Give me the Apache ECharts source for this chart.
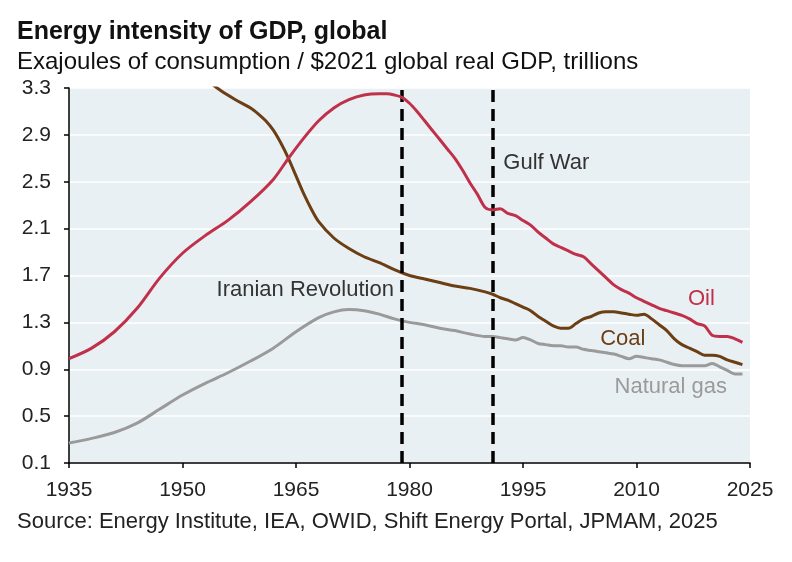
<!DOCTYPE html>
<html><head><meta charset="utf-8">
<script src="https://cdn.jsdelivr.net/npm/echarts@6/dist/echarts.min.js"></script>
<style>html,body{margin:0;padding:0;background:#fff}#c{width:792px;height:562px}</style>
</head><body><div id="c"></div>
<script>
const oilYears = [1935,1938,1941,1944,1947,1950,1953,1956,1959,1962,1964,1966,1968,1970,1972,1974,1976,1977,1978,1979,1980,1981,1982,1983,1984,1985,1986,1987,1988,1989,1990,1991,1992,1993,1994,1995,1996,1997,1998,1999,2000,2001,2002,2003,2004,2005,2006,2007,2008,2009,2010,2011,2012,2013,2014,2015,2016,2017,2018,2019,2020,2021,2022,2023,2024];
const oilValues = [0.99,1.08,1.22,1.42,1.68,1.89,2.04,2.17,2.33,2.52,2.70,2.87,3.02,3.13,3.20,3.24,3.25,3.25,3.24,3.22,3.17,3.10,3.02,2.94,2.86,2.78,2.70,2.60,2.49,2.39,2.28,2.26,2.27,2.23,2.21,2.17,2.13,2.07,2.02,1.97,1.94,1.91,1.88,1.86,1.80,1.74,1.68,1.62,1.58,1.55,1.51,1.48,1.45,1.42,1.40,1.38,1.36,1.33,1.29,1.27,1.19,1.18,1.18,1.16,1.13];

const coalYears = [1950,1953,1955,1957,1959,1960,1961,1962,1963,1964,1965,1966,1967,1968,1970,1972,1974,1976,1978,1980,1982,1984,1986,1988,1990,1991,1992,1993,1994,1995,1996,1997,1998,1999,2000,2001,2002,2003,2004,2005,2006,2007,2008,2009,2010,2011,2012,2013,2014,2015,2016,2017,2018,2019,2020,2021,2022,2023,2024];
const coalValues = [3.55,3.38,3.28,3.20,3.13,3.08,3.02,2.94,2.83,2.70,2.55,2.40,2.27,2.16,2.02,1.93,1.86,1.81,1.75,1.70,1.67,1.64,1.61,1.59,1.56,1.54,1.51,1.49,1.46,1.43,1.40,1.35,1.31,1.27,1.25,1.25,1.29,1.33,1.35,1.38,1.39,1.39,1.38,1.37,1.36,1.37,1.33,1.28,1.23,1.16,1.11,1.08,1.05,1.02,1.02,1.01,0.98,0.96,0.94];

const gasYears = [1935,1938,1941,1944,1947,1950,1953,1956,1959,1962,1965,1968,1970,1972,1974,1976,1978,1980,1982,1984,1986,1988,1990,1991,1992,1993,1994,1995,1996,1997,1998,1999,2000,2001,2002,2003,2004,2005,2006,2007,2008,2009,2010,2011,2012,2013,2014,2015,2016,2017,2018,2019,2020,2021,2022,2023,2024];
const gasValues = [0.27,0.31,0.36,0.44,0.56,0.68,0.78,0.87,0.97,1.08,1.22,1.34,1.39,1.41,1.40,1.37,1.33,1.30,1.28,1.25,1.23,1.20,1.18,1.18,1.17,1.16,1.15,1.17,1.15,1.12,1.11,1.10,1.10,1.09,1.09,1.07,1.06,1.05,1.04,1.03,1.01,0.99,1.01,1.00,0.99,0.98,0.96,0.94,0.93,0.93,0.93,0.93,0.95,0.92,0.89,0.86,0.86];

const eventYears = [1979, 1991];
const yTicks = [0.1,0.5,0.9,1.3,1.7,2.1,2.5,2.9,3.3];
const xTicks = [1935,1950,1965,1980,1995,2010,2025];

const annotations = [
  {text:'Iranian Revolution', at:[1954.5,1.585], color:'#333333'},
  {text:'Gulf War', at:[1992.4,2.67], color:'#333333'},
  {text:'Oil', at:[2016.8,1.51], color:'#c0304a'},
  {text:'Coal', at:[2005.2,1.17], color:'#6b3e14'},
  {text:'Natural gas', at:[2007.1,0.755], color:'#9a9a9a'}
];

function pairs(xs, ys){ return xs.map((x,i)=>[x, ys[i]]); }

const chart = echarts.init(document.getElementById('c'), null, {renderer:'canvas'});
const FONT = 'Liberation Sans, Arial, sans-serif';
chart.setOption({
  animation:false,
  backgroundColor:'#ffffff',
  title:[
    {text:'Energy intensity of GDP, global', left:17, top:20, padding:0, textStyle:{fontFamily:FONT, fontSize:25, fontWeight:'bold', color:'#111'}},
    {text:'Exajoules of consumption / $2021 global real GDP, trillions', left:17, top:50, padding:0, textStyle:{fontFamily:FONT, fontSize:24, fontWeight:'normal', color:'#111'}},
    {text:'Source: Energy Institute, IEA, OWID, Shift Energy Portal, JPMAM, 2025', left:17, top:511, padding:0, textStyle:{fontFamily:FONT, fontSize:22, fontWeight:'normal', color:'#222'}}
  ],
  grid:{left:69, right:42, top:88, bottom:99, show:true, backgroundColor:'#e9f0f4', borderWidth:0},
  xAxis:{type:'value', min:1935, max:2025, interval:15,
    axisLine:{show:true, onZero:false, lineStyle:{color:'#000', width:1.5}},
    axisTick:{show:true, length:5, lineStyle:{color:'#000', width:1.5}},
    axisLabel:{fontFamily:FONT, fontSize:21, color:'#222', margin:17, formatter:v=>xTicks.includes(v)?String(v):''},
    splitLine:{show:false}},
  yAxis:{type:'value', min:0.1, max:3.3, interval:0.4,
    axisLine:{show:true, lineStyle:{color:'#000', width:1.5}},
    axisTick:{show:true, length:5, lineStyle:{color:'#000', width:1.5}},
    axisLabel:{fontFamily:FONT, fontSize:21, color:'#222', margin:18, formatter:v=>{const m=yTicks.find(t=>Math.abs(t-v)<1e-6);return m!==undefined?m.toFixed(1):'';}},
    splitLine:{show:true, lineStyle:{color:'#ffffff', width:1.5}}},
  series:[
    {name:'Natural gas', type:'line', data:pairs(gasYears,gasValues), smooth:0.3, showSymbol:false, clip:true,
      lineStyle:{color:'#9a9a9a', width:3}, z:3},
    {name:'Coal', type:'line', data:pairs(coalYears,coalValues), smooth:0.3, showSymbol:false, clip:true,
      lineStyle:{color:'#6b3e14', width:3}, z:4},
    {name:'Oil', type:'line', data:pairs(oilYears,oilValues), smooth:0.3, showSymbol:false, clip:true,
      lineStyle:{color:'#c0304a', width:3}, z:5,
      markLine:{silent:true, symbol:['none','none'], label:{show:false},
        lineStyle:{color:'#000', width:3.5, type:[12,7]},
        data:eventYears.map(y=>({xAxis:y}))}}
  ]
});

const AF = 22;
chart.setOption({graphic: annotations.map(a=>{
  const p = chart.convertToPixel({gridIndex:0}, a.at);
  return {type:'text', left:p[0], top:p[1]-AF*0.45, z:10,
    style:{text:a.text, fill:a.color, fontFamily:FONT, fontSize:AF}};
})});
</script></body></html>
